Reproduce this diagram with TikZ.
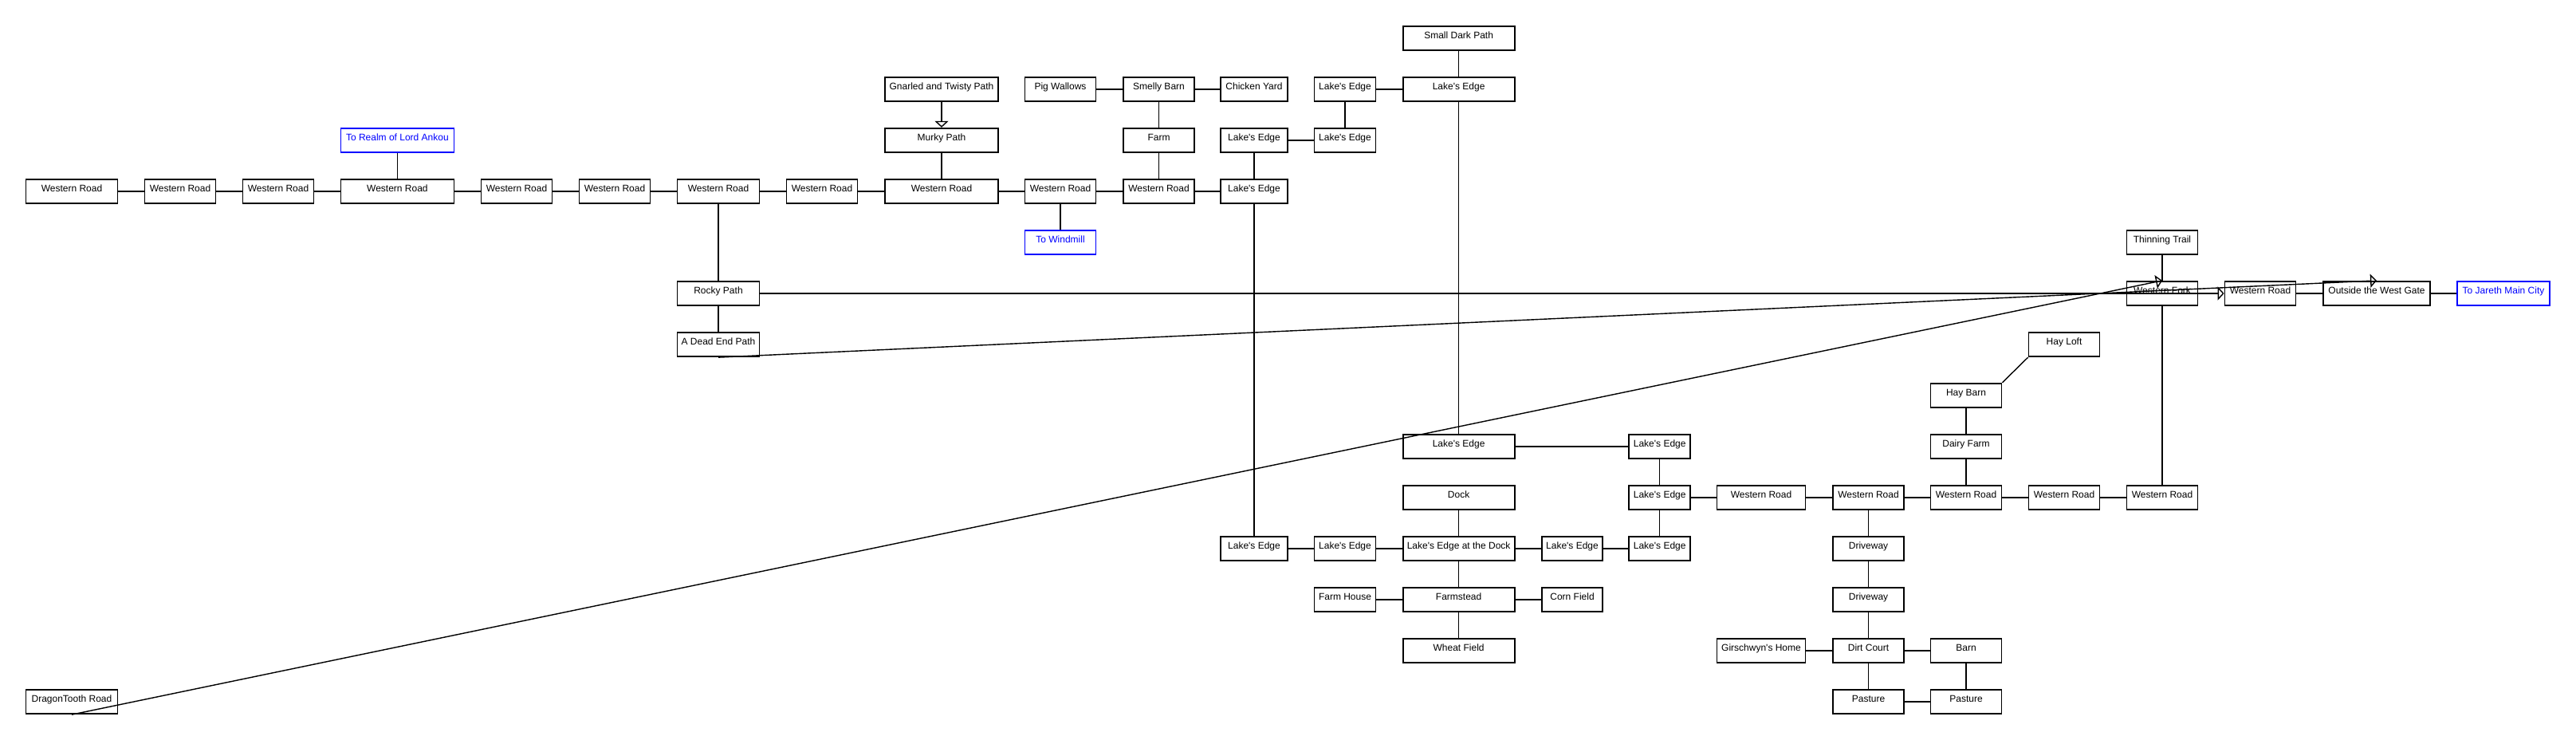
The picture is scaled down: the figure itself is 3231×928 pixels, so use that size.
\documentclass[tikz,border=0pt]{standalone}
\usepackage{fontspec}
\newfontfamily\lblfont{Liberation Sans}
\usetikzlibrary{arrows.meta}
\definecolor{linkblue}{RGB}{0,0,255}
\tikzset{
  box/.style={draw, line width=1.8pt, minimum height=30.5pt, inner sep=0pt,
    text height=5.5pt, text depth=5pt, font=\lblfont\fontsize{12pt}{14pt}\selectfont},
  linkbox/.style={box, draw=linkblue, text=linkblue},
  edge/.style={line width=1.4pt},
  arrowedge/.style={line width=1.4pt, -{Triangle[open, length=8pt, width=17pt, line width=1.4pt]}},
  wA/.style={minimum width=115pt}, wB/.style={minimum width=89pt},
  wD/.style={minimum width=142pt}, wG/.style={minimum width=103pt},
  wL/.style={minimum width=84pt}, wM/.style={minimum width=77pt},
  wN/.style={minimum width=140pt}, wO/.style={minimum width=76pt},
  wQ/.style={minimum width=111pt}, wW/.style={minimum width=134pt},
  wX/.style={minimum width=116pt}
}
\begin{document}
\begin{tikzpicture}[x=1pt,y=-1pt]
\useasboundingbox (0,0) rectangle (3231,928);
% row 48
\node[box,wN] (smalldark) at (1829.6,48) {Small Dark Path};
% row 112
\node[box,wD] (gnarled) at (1181,112) {Gnarled and Twisty Path};
\node[box,wB] (pig) at (1330,112) {Pig Wallows};
\node[box,wB] (smelly) at (1453.5,112) {Smelly Barn};
\node[box,wL] (chicken) at (1573,112) {Chicken Yard};
\node[box,wM] (leM112) at (1687,112) {Lake's Edge};
\node[box,wN] (leN112) at (1829.6,112) {Lake's Edge};
% row 176
\node[linkbox,wD] (realm) at (498.4,176) {To Realm of Lord Ankou};
\node[box,wD] (murky) at (1181,176) {Murky Path};
\node[box,wB] (farm) at (1453.5,176) {Farm};
\node[box,wL] (leL176) at (1573,176) {Lake's Edge};
\node[box,wM] (leM176) at (1687,176) {Lake's Edge};
% row 240
\node[box,wA] (wr1) at (90,240) {Western Road};
\node[box,wB] (wr2) at (226,240) {Western Road};
\node[box,wB] (wr3) at (349,240) {Western Road};
\node[box,wD] (wr4) at (498.4,240) {Western Road};
\node[box,wB] (wr5) at (648,240) {Western Road};
\node[box,wB] (wr6) at (771,240) {Western Road};
\node[box,wG] (wr7) at (901,240) {Western Road};
\node[box,wB] (wr8) at (1031,240) {Western Road};
\node[box,wD] (wr9) at (1181,240) {Western Road};
\node[box,wB] (wr10) at (1330,240) {Western Road};
\node[box,wB] (wr11) at (1453.5,240) {Western Road};
\node[box,wL] (leL240) at (1573,240) {Lake's Edge};
% row 304
\node[linkbox,wB] (windmill) at (1330,304) {To Windmill};
\node[box,wB] (thinning) at (2712,304) {Thinning Trail};
% row 368
\node[box,wG] (rocky) at (901,368) {Rocky Path};
\node[box,wB] (fork) at (2712,368) {Western Fork};
\node[box,wB] (wrV) at (2835,368) {Western Road};
\node[box,wW] (gate) at (2981,368) {Outside the West Gate};
\node[linkbox,wX] (jareth) at (3140,368) {To Jareth Main City};
% row 432
\node[box,wG] (deadend) at (901,432) {A Dead End Path};
\node[box,wB] (hayloft) at (2589,432) {Hay Loft};
% row 496
\node[box,wB] (haybarn) at (2466,496) {Hay Barn};
% row 560
\node[box,wN] (leN560) at (1829.6,560) {Lake's Edge};
\node[box,wM] (leP560) at (2081.7,560) {Lake's Edge};
\node[box,wB] (dairy) at (2466,560) {Dairy Farm};
% row 624
\node[box,wN] (dock) at (1829.6,624) {Dock};
\node[box,wM] (leP624) at (2081.7,624) {Lake's Edge};
\node[box,wQ] (wrQ) at (2209,624) {Western Road};
\node[box,wB] (wrR) at (2343.5,624) {Western Road};
\node[box,wB] (wrS) at (2466,624) {Western Road};
\node[box,wB] (wrT) at (2589,624) {Western Road};
\node[box,wB] (wrU) at (2712,624) {Western Road};
% row 688
\node[box,wL] (leL688) at (1573,688) {Lake's Edge};
\node[box,wM] (leM688) at (1687,688) {Lake's Edge};
\node[box,wN] (ledock) at (1829.6,688) {Lake's Edge at the Dock};
\node[box,wO] (leO688) at (1972,688) {Lake's Edge};
\node[box,wM] (leP688) at (2081.7,688) {Lake's Edge};
\node[box,wB] (drive1) at (2343.5,688) {Driveway};
% row 752
\node[box,wM] (farmhouse) at (1687,752) {Farm House};
\node[box,wN] (farmstead) at (1829.6,752) {Farmstead};
\node[box,wO] (corn) at (1972,752) {Corn Field};
\node[box,wB] (drive2) at (2343.5,752) {Driveway};
% row 816
\node[box,wN] (wheat) at (1829.6,816) {Wheat Field};
\node[box,wQ] (girsch) at (2209,816) {Girschwyn's Home};
\node[box,wB] (dirt) at (2343.5,816) {Dirt Court};
\node[box,wB] (barn) at (2466,816) {Barn};
% row 880
\node[box,wA] (dragon) at (90,880) {DragonTooth Road};
\node[box,wB] (past1) at (2343.5,880) {Pasture};
\node[box,wB] (past2) at (2466,880) {Pasture};

% western road chain
\draw[edge] (wr1) -- (wr2);
\draw[edge] (wr2) -- (wr3);
\draw[edge] (wr3) -- (wr4);
\draw[edge] (wr4) -- (wr5);
\draw[edge] (wr5) -- (wr6);
\draw[edge] (wr6) -- (wr7);
\draw[edge] (wr7) -- (wr8);
\draw[edge] (wr8) -- (wr9);
\draw[edge] (wr9) -- (wr10);
\draw[edge] (wr10) -- (wr11);
\draw[edge] (wr11) -- (leL240);
\draw[edge] (realm) -- (wr4);
\draw[edge] (wr7) -- (rocky);
\draw[edge] (rocky) -- (deadend);
\draw[arrowedge] (gnarled) -- (murky);
\draw[edge] (murky) -- (wr9);
\draw[edge] (wr10) -- (windmill);
\draw[edge] (pig) -- (smelly);
\draw[edge] (smelly) -- (chicken);
\draw[edge] (smelly) -- (farm);
\draw[edge] (farm) -- (wr11);
\draw[edge] (leM112) -- (leN112);
\draw[edge] (leM112) -- (leM176);
\draw[edge] (leL176) -- (leM176);
\draw[edge] (leL176) -- (leL240);
\draw[edge] (smalldark) -- (leN112);
\draw[edge] (leN112) -- (leN560);
\draw[edge] (leL240) -- (leL688);
% lake and farm area
\draw[edge] (leN560) -- (leP560);
\draw[edge] (leP560) -- (leP624);
\draw[edge] (leP624) -- (leP688);
\draw[edge] (leP624) -- (wrQ);
\draw[edge] (wrQ) -- (wrR);
\draw[edge] (wrR) -- (wrS);
\draw[edge] (wrS) -- (wrT);
\draw[edge] (wrT) -- (wrU);
\draw[edge] (wrU) -- (fork);
\draw[edge] (thinning) -- (fork);
\draw[edge] (wrV) -- (gate);
\draw[edge] (gate) -- (jareth);
\draw[edge] (leL688) -- (leM688);
\draw[edge] (leM688) -- (ledock);
\draw[edge] (ledock) -- (leO688);
\draw[edge] (leO688) -- (leP688);
\draw[edge] (dock) -- (ledock);
\draw[edge] (ledock) -- (farmstead);
\draw[edge] (farmhouse) -- (farmstead);
\draw[edge] (farmstead) -- (corn);
\draw[edge] (farmstead) -- (wheat);
\draw[edge] (wrR) -- (drive1);
\draw[edge] (drive1) -- (drive2);
\draw[edge] (drive2) -- (dirt);
\draw[edge] (girsch) -- (dirt);
\draw[edge] (dirt) -- (barn);
\draw[edge] (dirt) -- (past1);
\draw[edge] (barn) -- (past2);
\draw[edge] (past1) -- (past2);
\draw[edge] (wrS) -- (dairy);
\draw[edge] (dairy) -- (haybarn);
\draw[edge] (haybarn.north east) -- (hayloft.south west);
% long arrows
\draw[arrowedge] (rocky.east) -- (wrV.west);
\draw[arrowedge] (deadend.south) -- (gate.north);
\draw[arrowedge] (dragon.south) -- (fork.north);
\end{tikzpicture}
\end{document}
